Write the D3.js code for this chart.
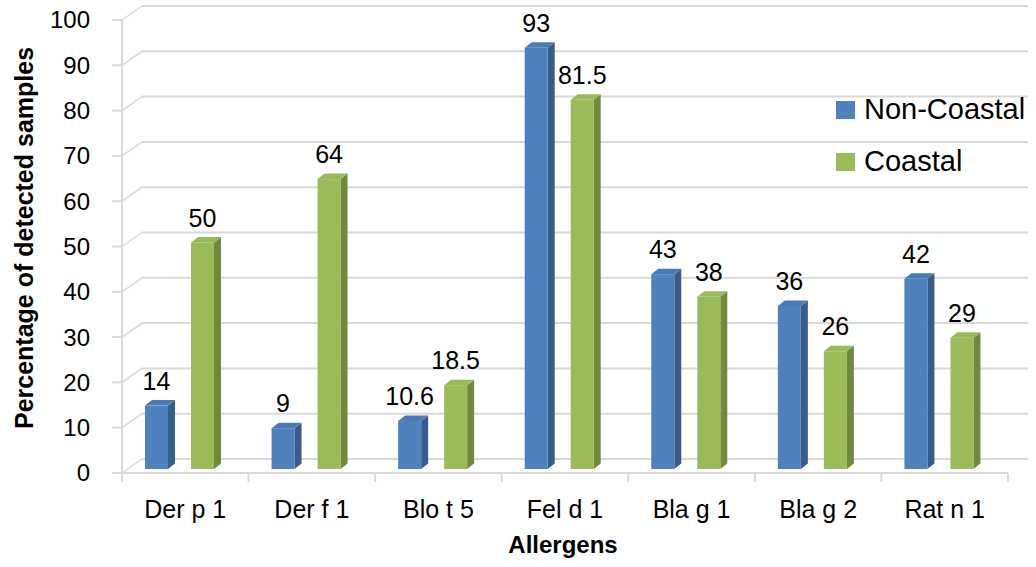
<!DOCTYPE html>
<html>
<head>
<meta charset="utf-8">
<script src="https://cdn.jsdelivr.net/npm/d3@7/dist/d3.min.js"></script>
<style>
  html, body { margin: 0; padding: 0; background: #fff; }
  svg { display: block; font-family: "Liberation Sans", Arial, sans-serif; }
</style>
</head>
<body>
<svg id="chart" width="1036" height="567"></svg>
<script>
// Allergen detection rates by sampling area
const categories = ["Der p 1", "Der f 1", "Blo t 5", "Fel d 1", "Bla g 1", "Bla g 2", "Rat n 1"];
const seriesNames = ["Non-Coastal", "Coastal"];
const nonCoastal = [14, 9, 10.6, 93, 43, 36, 42];
const coastal = [50, 64, 18.5, 81.5, 38, 26, 29];
const yTicks = [0, 10, 20, 30, 40, 50, 60, 70, 80, 90, 100];

const colors = {
  "Non-Coastal": { front: "#4f81bd", top: "#4a7bb6", side: "#385d8a" },
  "Coastal":     { front: "#9bbb59", top: "#98b957", side: "#6f8a3e" }
};

const svg = d3.select("#chart");

// Frame geometry: front edge of the floor and the receding back wall
const frontLeft = 122, frontRight = 1008, floorY = 473;
const wallDx = 20, wallDy = -14;       // back wall offset from the front edge
const barDy = -4;                       // bars stand slightly behind the front edge
const depthDx = 7, depthDy = -5.5;      // visible depth of each column

const x = d3.scaleBand().domain(categories).range([frontLeft, frontRight]);
const xs = d3.scaleBand().domain(seriesNames).range([23, 92]).paddingInner(0.5);
const y = d3.scaleLinear().domain([0, 100]).range([floorY, 20]);

const grid = "#d9d9d9";

// Back wall gridlines with the side-wall connectors and axis ticks
const gGrid = svg.append("g");
yTicks.forEach(v => {
  const yf = y(v);
  gGrid.append("line").attr("x1", frontLeft + wallDx).attr("x2", 1028)
    .attr("y1", yf + wallDy).attr("y2", yf + wallDy)
    .attr("stroke", grid).attr("stroke-width", 2);
  gGrid.append("line").attr("x1", frontLeft).attr("x2", frontLeft + wallDx)
    .attr("y1", yf).attr("y2", yf + wallDy)
    .attr("stroke", grid).attr("stroke-width", 1.5);
  gGrid.append("line").attr("x1", frontLeft - 10).attr("x2", frontLeft)
    .attr("y1", yf).attr("y2", yf)
    .attr("stroke", grid).attr("stroke-width", 2);
});
// vertical axis line
gGrid.append("line").attr("x1", frontLeft).attr("x2", frontLeft)
  .attr("y1", y(100)).attr("y2", floorY + 9)
  .attr("stroke", grid).attr("stroke-width", 2);
// front floor edge
gGrid.append("line").attr("x1", frontLeft).attr("x2", frontRight)
  .attr("y1", floorY).attr("y2", floorY)
  .attr("stroke", grid).attr("stroke-width", 2);
// category ticks
d3.range(categories.length + 1).forEach(i => {
  const xx = frontLeft + i * x.step();
  gGrid.append("line").attr("x1", xx).attr("x2", xx)
    .attr("y1", floorY).attr("y2", floorY + 9)
    .attr("stroke", grid).attr("stroke-width", 2);
});

// Y tick labels
svg.append("g").selectAll("text").data(yTicks).join("text")
  .attr("x", 90).attr("y", d => y(d)).attr("dy", "0.35em")
  .attr("text-anchor", "end").attr("font-size", 24).attr("fill", "#000")
  .text(d => d);

// Category labels
svg.append("g").selectAll("text").data(categories).join("text")
  .attr("x", d => x(d) + x.bandwidth() / 2).attr("y", 518)
  .attr("text-anchor", "middle").attr("font-size", 25).attr("fill", "#000")
  .text(d => d);

// Axis titles
svg.append("text").attr("x", 563).attr("y", 553)
  .attr("text-anchor", "middle").attr("font-size", 24).attr("font-weight", "bold")
  .text("Allergens");
svg.append("text")
  .attr("transform", "translate(33,238) rotate(-90)")
  .attr("text-anchor", "middle").attr("font-size", 25).attr("font-weight", "bold")
  .text("Percentage of detected samples");

// Columns
const bars = [];
categories.forEach((c, i) => {
  bars.push({ cat: c, series: "Non-Coastal", value: nonCoastal[i] });
  bars.push({ cat: c, series: "Coastal", value: coastal[i] });
});

const gBars = svg.append("g");
bars.forEach(b => {
  const x0 = x(b.cat) + xs(b.series);
  const w = xs.bandwidth();
  const yb = y(0) + barDy;
  const yt = y(b.value) + barDy;
  const col = colors[b.series];
  const g = gBars.append("g");
  // side face
  g.append("path")
    .attr("d", `M${x0 + w},${yt} L${x0 + w + depthDx},${yt + depthDy} L${x0 + w + depthDx},${yb + depthDy} L${x0 + w},${yb} Z`)
    .attr("fill", col.side);
  // top face
  g.append("path")
    .attr("d", `M${x0},${yt} L${x0 + depthDx},${yt + depthDy} L${x0 + w + depthDx},${yt + depthDy} L${x0 + w},${yt} Z`)
    .attr("fill", col.top);
  // front face
  g.append("rect").attr("x", x0).attr("y", yt).attr("width", w).attr("height", yb - yt)
    .attr("fill", col.front);
  // value label
  svg.append("text")
    .attr("x", x0 + w / 2).attr("y", yt - 16)
    .attr("text-anchor", "middle").attr("font-size", 25).attr("fill", "#000")
    .text(b.value);
});

// Legend
const legend = svg.append("g");
seriesNames.forEach((s, i) => {
  const ly = 101 + i * 52;
  legend.append("rect").attr("x", 836).attr("y", ly).attr("width", 19).attr("height", 18)
    .attr("fill", colors[s].front);
  legend.append("text").attr("x", 864).attr("y", ly + 18)
    .attr("font-size", 29).attr("fill", "#000").text(s);
});
</script>
</body>
</html>
